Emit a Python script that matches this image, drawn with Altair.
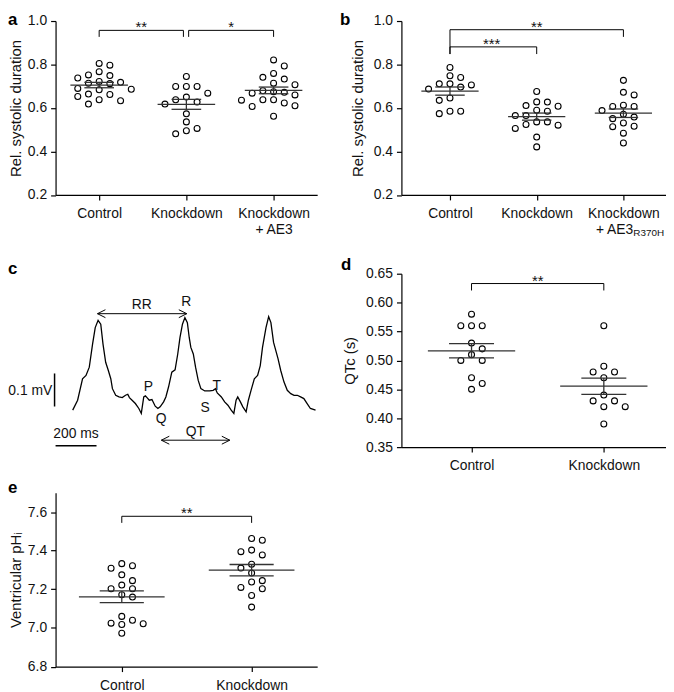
import altair as alt
import pandas as pd

FONT = "Liberation Sans"
INK = "#111111"
LINE = "#333333"

# ---------------- data ----------------
# panel a : relative systolic duration
a_control = [0.805, 0.797, 0.767, 0.752, 0.749, 0.738, 0.722, 0.718, 0.714, 0.712,
             0.690, 0.686, 0.684, 0.664, 0.662, 0.653, 0.638, 0.633, 0.618]
a_knockdown = [0.745, 0.699, 0.699, 0.699, 0.668, 0.650, 0.638, 0.627, 0.618, 0.573,
               0.536, 0.506, 0.495, 0.481]
a_rescue = [0.821, 0.793, 0.759, 0.741, 0.733, 0.714, 0.707, 0.679, 0.675, 0.672,
            0.668, 0.660, 0.638, 0.638, 0.636, 0.623, 0.610, 0.607, 0.562]

# panel b : relative systolic duration (R370H)
b_control = [0.786, 0.748, 0.740, 0.711, 0.711, 0.706, 0.696, 0.687, 0.646, 0.635,
             0.585, 0.585, 0.574]
b_knockdown = [0.676, 0.628, 0.627, 0.611, 0.608, 0.590, 0.585, 0.565, 0.565, 0.536,
               0.536, 0.524, 0.521, 0.506, 0.466, 0.421]
b_mutant = [0.727, 0.672, 0.660, 0.613, 0.607, 0.607, 0.588, 0.571, 0.558, 0.551,
            0.531, 0.516, 0.514, 0.484, 0.439]

# panel c : ECG trace (time in ms, voltage in mV)
ecg_t = [0, 24, 48, 65, 81, 97, 110, 124, 137, 148, 161, 174, 186, 194, 210, 226, 242,
         258, 269, 277, 290, 306, 323, 335, 347, 355, 363, 374, 387, 403, 416, 427, 444,
         455, 468, 484, 500, 513, 524, 536, 548, 560, 569, 577, 589, 600, 613, 626, 645,
         669, 686, 697, 706, 726, 742, 758, 774, 787, 798, 806, 819, 831, 847, 858, 871,
         887, 903, 916, 927, 944, 957, 968, 981, 992, 1003, 1016, 1032, 1048, 1065, 1081,
         1097, 1113, 1129, 1145, 1161, 1186]
ecg_mv = [0.010, 0.040, 0.105, 0.115, 0.140, 0.210, 0.260, 0.282, 0.270, 0.210, 0.155,
          0.130, 0.105, 0.075, 0.055, 0.050, 0.048, 0.055, 0.058, 0.048, 0.040, 0.030,
          0.015, 0.000, 0.050, 0.053, 0.048, 0.040, 0.042, 0.022, 0.015, 0.020, 0.035,
          0.050, 0.080, 0.125, 0.132, 0.180, 0.230, 0.270, 0.290, 0.275, 0.230, 0.200,
          0.180, 0.140, 0.100, 0.075, 0.068, 0.068, 0.070, 0.075, 0.062, 0.050, 0.035,
          0.025, 0.010, 0.000, 0.040, 0.050, 0.035, 0.020, 0.005, 0.040, 0.070, 0.105,
          0.115, 0.145, 0.200, 0.260, 0.293, 0.275, 0.215, 0.190, 0.165, 0.130, 0.095,
          0.070, 0.060, 0.055, 0.055, 0.050, 0.045, 0.030, 0.015, 0.010]

# panel d : QTc (s)
d_control = [0.58, 0.56, 0.56, 0.56, 0.53, 0.52, 0.51, 0.50, 0.50, 0.47, 0.46, 0.45]
d_knockdown = [0.56, 0.49, 0.48, 0.48, 0.47, 0.44, 0.43, 0.43, 0.42, 0.42, 0.39]

# panel e : ventricular pHi
e_control = [7.333, 7.322, 7.309, 7.275, 7.245, 7.222, 7.203, 7.203, 7.172, 7.160,
             7.060, 7.040, 7.025, 7.022, 7.018, 6.973]
e_knockdown = [7.463, 7.454, 7.403, 7.395, 7.378, 7.330, 7.310, 7.284, 7.245, 7.238,
               7.210, 7.203, 7.168, 7.108]

# ---------------- layout helpers ----------------
SPACING_PX = 10.8
DIAM_PX = 8.0


def swarm_cols(values, px_per_unit):
    """Simple Prism-like dot arrangement: integer column per point."""
    order = sorted(range(len(values)), key=lambda i: -values[i])
    placed = []
    cols = [0] * len(values)
    for i in order:
        py = values[i] * px_per_unit
        near = [pc for pp, pc in placed if abs(pp - py) < 2 * DIAM_PX]
        bal = sum(near)
        cand = [0]
        for k in range(1, 6):
            cand += [-k, k] if bal > 0 else [k, -k]
        for c in cand:
            if all(pc != c or abs(pp - py) >= DIAM_PX for pp, pc in placed):
                cols[i] = c
                placed.append((py, c))
                break
    return cols


def dot_panel(groups, label_expr, xdom, ydom, width, height, yticks, yfmt, ytitle,
              title_pad, brackets, letter, letter_xy, letter_baseline, extra=None):
    band = width / (xdom[1] - xdom[0])
    ppu = height / (ydom[1] - ydom[0])
    recs = []
    for g, vals in enumerate(groups):
        cols = swarm_cols(vals, ppu)
        for v, c in zip(vals, cols):
            recs.append({"g": g, "xp": g + c * SPACING_PX / band, "v": v})
    df = pd.DataFrame(recs)
    xs = alt.Scale(domain=xdom, nice=False, zero=False)
    ys = alt.Scale(domain=ydom, nice=False, zero=False)
    xax = alt.Axis(values=list(range(len(groups))), labelExpr=label_expr, title=None,
                   labelFlush=False, labelOverlap=False, labelLineHeight=16, grid=False)
    yax = alt.Axis(values=yticks, format=yfmt, title=ytitle, titlePadding=title_pad,
                   labelFlush=False, labelOverlap=False, labelBound=False, grid=False)

    def X(f):
        return alt.X(f, type="quantitative", scale=xs, axis=xax)

    def Y(f):
        return alt.Y(f, type="quantitative", scale=ys, axis=yax)

    pts = alt.Chart(df).mark_point(shape="circle", filled=False, size=36, strokeWidth=1.1,
                                   color="black", opacity=1).encode(
        x=X("xp"), y=Y("v"))
    stats = alt.Chart(df).transform_aggregate(
        m="mean(v)", se="stderr(v)", groupby=["g"]
    ).transform_calculate(
        ml="datum.g - 0.33", mr="datum.g + 0.33",
        sl="datum.g - 0.17", sr="datum.g + 0.17",
        lo="datum.m - datum.se", hi="datum.m + datum.se")
    rule_kw = dict(color=LINE, strokeWidth=1.3)
    mean_r = stats.mark_rule(**rule_kw).encode(x=X("ml"), x2="mr:Q", y=Y("m"))
    hi_r = stats.mark_rule(**rule_kw).encode(x=X("sl"), x2="sr:Q", y=Y("hi"))
    lo_r = stats.mark_rule(**rule_kw).encode(x=X("sl"), x2="sr:Q", y=Y("lo"))
    vert = stats.mark_rule(**rule_kw).encode(x=X("g"), y=Y("lo"), y2="hi:Q")

    bdf = pd.DataFrame(brackets)
    bk = dict(color="black", strokeWidth=1)
    bh = alt.Chart(bdf).mark_rule(**bk).encode(x=X("x1"), x2="x2:Q", y=Y("y"))
    bl = alt.Chart(bdf).mark_rule(**bk).encode(x=X("x1"), y=Y("y"), y2="yb1:Q")
    br = alt.Chart(bdf).mark_rule(**bk).encode(x=X("x2"), y=Y("y"), y2="yb2:Q")
    bt = alt.Chart(bdf).mark_text(font=FONT, fontSize=15, baseline="alphabetic", dy=2,
                                  color=INK).encode(x=X("xm"), y=Y("y"), text="label:N")
    let = alt.Chart(pd.DataFrame({"t": [letter]})).mark_text(
        font=FONT, fontSize=17, fontWeight="bold", align="left",
        baseline=letter_baseline, color="black").encode(
        x=alt.value(letter_xy[0]), y=alt.value(letter_xy[1]), text="t:N")
    layers = [pts, mean_r, hi_r, lo_r, vert, bh, bl, br, bt, let]
    if extra is not None:
        layers += extra(X, height)
    return alt.layer(*layers).properties(width=width, height=height)


# ---------------- panel a ----------------
panel_a = dot_panel(
    [a_control, a_knockdown, a_rescue],
    "datum.value == 0 ? 'Control' : (datum.value == 1 ? 'Knockdown' : ['Knockdown', '+ AE3'])",
    [-0.5, 2.5], [0.2, 1.0], 264, 175.5, [0.2, 0.4, 0.6, 0.8, 1.0], ".1f",
    "Rel. systolic duration", 4,
    [{"x1": 0, "x2": 0.966, "y": 0.957, "yb1": 0.927, "yb2": 0.927, "xm": 0.483, "label": "**"},
     {"x1": 1.026, "x2": 2, "y": 0.957, "yb1": 0.927, "yb2": 0.927, "xm": 1.513, "label": "*"}],
    "a", (-48, -9), "top")


# ---------------- panel b ----------------
def b_extra(X, h):
    d = pd.DataFrame({"x": [2], "t1": ["+ AE3"], "t2": ["R370H"]})
    l1 = alt.Chart(d).mark_text(font=FONT, fontSize=14, align="right", dx=10,
                                baseline="alphabetic", color=INK).encode(
        x=X("x"), y=alt.value(h + 39), text="t1:N")
    l2 = alt.Chart(d).mark_text(font=FONT, fontSize=10, align="left", dx=10,
                                baseline="alphabetic", color=INK).encode(
        x=X("x"), y=alt.value(h + 41.5), text="t2:N")
    return [l1, l2]


panel_b = dot_panel(
    [b_control, b_knockdown, b_mutant],
    "datum.value == 0 ? 'Control' : 'Knockdown'",
    [-0.56, 2.491], [0.2, 1.0], 267, 175.5, [0.2, 0.4, 0.6, 0.8, 1.0], ".1f",
    "Rel. systolic duration", 8,
    [{"x1": 0, "x2": 2, "y": 0.960, "yb1": 0.848, "yb2": 0.927, "xm": 1.0, "label": "**"},
     {"x1": 0, "x2": 1, "y": 0.881, "yb1": 0.848, "yb2": 0.848, "xm": 0.48, "label": "***"}],
    "b", (-62, -9), "top", extra=b_extra)

# ---------------- panel c (ECG) ----------------
cxs = alt.Scale(domain=[-83.7, 1194], nice=False, zero=False)
cys = alt.Scale(domain=[-0.102, 0.423], nice=False, zero=False)


def CX(f):
    return alt.X(f, type="quantitative", scale=cxs, axis=None)


def CY(f):
    return alt.Y(f, type="quantitative", scale=cys, axis=None)


ecg = pd.DataFrame({"t": ecg_t, "mv": ecg_mv})
trace = alt.Chart(ecg).mark_line(color="black", strokeWidth=1.3).encode(
    x=CX("t"), y=CY("mv"))
arrows = pd.DataFrame({"x1": [121, 433], "x2": [557, 767], "y": [0.302, -0.081]})
arrow_lines = alt.Chart(arrows).mark_rule(color="black", strokeWidth=1).encode(
    x=CX("x1"), x2="x2:Q", y=CY("y"))
heads = pd.DataFrame({"x": [121, 557, 433, 767], "y": [0.302, 0.302, -0.081, -0.081],
                      "dir": ["L", "R", "L", "R"]})
arrow_heads = alt.Chart(heads).mark_point(filled=False, size=64, strokeWidth=1,
                                          color="black", opacity=1).encode(
    x=CX("x"), y=CY("y"),
    shape=alt.Shape("dir:N", scale=alt.Scale(domain=["L", "R"],
                                             range=["M2,-1L0,0L2,1", "M-2,-1L0,0L-2,1"]),
                    legend=None))
vbar = alt.Chart(pd.DataFrame({"x": [-88.6], "y": [0.021], "y2": [0.121]})).mark_rule(
    color="black", strokeWidth=1.5).encode(x=CX("x"), y=CY("y"), y2="y2:Q")
hbar = alt.Chart(pd.DataFrame({"x": [-83.7], "x2": [116.3], "y": [-0.098]})).mark_rule(
    color="black", strokeWidth=1.5).encode(x=CX("x"), x2="x2:Q", y=CY("y"))
c_labels = pd.DataFrame({
    "text": ["RR", "R", "P", "Q", "S", "T", "QT", "200 ms"],
    "t": [337, 555, 369, 432, 647, 703, 599, 16],
    "mv": [0.315, 0.324, 0.069, -0.029, 0.003, 0.072, -0.069, -0.075]})
c_text = alt.Chart(c_labels).mark_text(font=FONT, fontSize=14, baseline="alphabetic",
                                       color=INK).encode(
    x=CX("t"), y=CY("mv"), text="text:N")
c_mv = alt.Chart(pd.DataFrame({"text": ["0.1 mV"], "t": [-100.0], "mv": [0.057]})).mark_text(
    font=FONT, fontSize=14, baseline="alphabetic", align="right", color=INK).encode(
    x=CX("t"), y=CY("mv"), text="text:N")
c_let = alt.Chart(pd.DataFrame({"t": ["c"]})).mark_text(
    font=FONT, fontSize=17, fontWeight="bold", align="left", baseline="alphabetic",
    color="black").encode(x=alt.value(-48), y=alt.value(0), text="t:N")
panel_c = alt.layer(trace, arrow_lines, arrow_heads, vbar, hbar, c_text, c_mv,
                    c_let).properties(width=264, height=175)

# ---------------- panel d ----------------
panel_d = dot_panel(
    [d_control, d_knockdown],
    "datum.value == 0 ? 'Control' : 'Knockdown'",
    [-0.53, 1.47], [0.35, 0.65], 267, 175,
    [0.35, 0.40, 0.45, 0.50, 0.55, 0.60, 0.65], ".2f", "QTc (s)", 8,
    [{"x1": 0, "x2": 1, "y": 0.633, "yb1": 0.621, "yb2": 0.621, "xm": 0.5, "label": "**"}],
    "d", (-61, -4), "alphabetic")

# ---------------- panel e ----------------
panel_e = dot_panel(
    [e_control, e_knockdown],
    "datum.value == 0 ? 'Control' : 'Knockdown'",
    [-0.51, 1.505], [6.8, 7.7], 264, 175.5,
    [6.8, 7.0, 7.2, 7.4, 7.6], ".1f", "Ventricular pH\u1d62", 4,
    [{"x1": 0, "x2": 1, "y": 7.578, "yb1": 7.544, "yb2": 7.544, "xm": 0.5, "label": "**"}],
    "e", (-48, 0), "alphabetic")


# ---------------- assemble (2-column grid with empty spacer rows) ----------------
def spacer(h):
    return alt.Chart(pd.DataFrame({"z": [0]})).mark_point(opacity=0).encode(
        x=alt.value(0), y=alt.value(0)).properties(width=10, height=h)


chart = alt.concat(
    panel_a, panel_b,
    spacer(79), spacer(79),
    panel_c, panel_d,
    spacer(46), spacer(46),
    panel_e,
    columns=2, spacing={"row": 0, "column": 85}, bounds="flush", align="each"
).properties(
    padding=0
).configure_view(stroke=None).configure_axis(
    domainColor="black", domainWidth=1.2, tickColor="black", tickWidth=1.2, tickSize=5,
    labelFont=FONT, labelFontSize=14, labelColor=INK, titleFont=FONT, titleFontSize=15,
    titleFontWeight="normal", titleColor=INK, grid=False
).configure_axisX(labelPadding=7).configure_axisY(labelPadding=4)

chart.save("out.html", embed_options={"renderer": "svg", "actions": False})
